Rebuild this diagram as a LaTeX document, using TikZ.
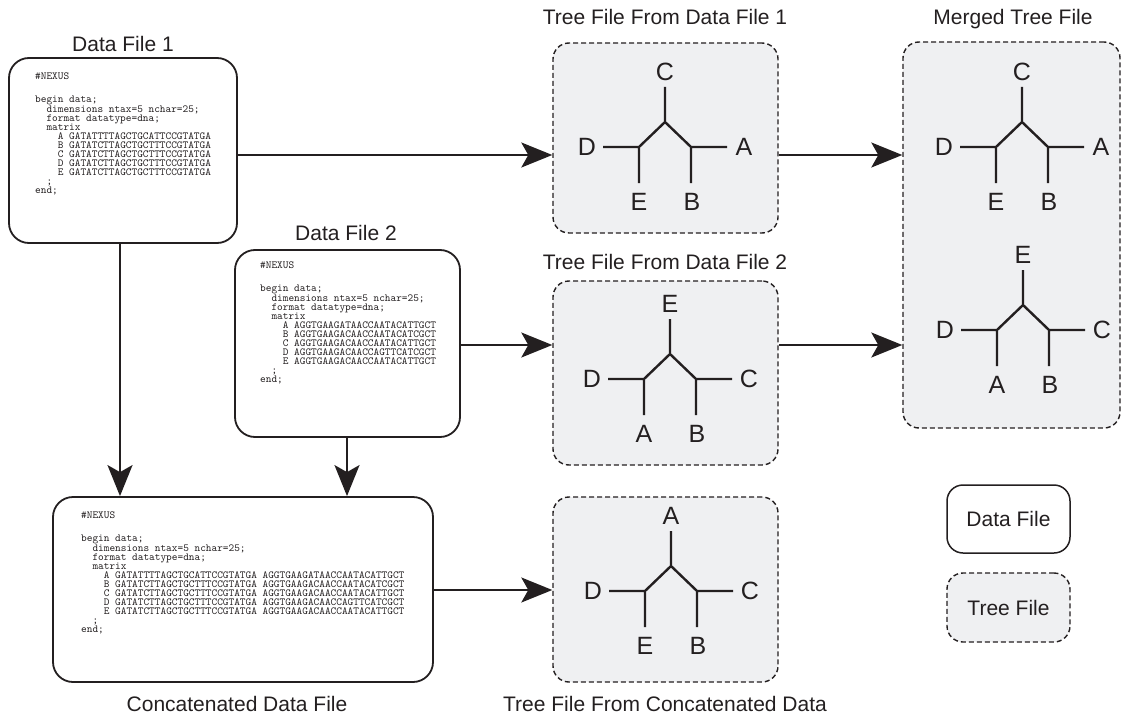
\documentclass[tikz,border=0pt]{standalone}
\usepackage{fontspec}
\setmainfont{Liberation Sans}
\usetikzlibrary{arrows.meta}
\definecolor{ink}{RGB}{35,31,32}
\definecolor{treefill}{RGB}{239,240,242}
\tikzset{
  databox/.style={draw=ink, line width=1.8pt, rounded corners=20pt, inner sep=0pt},
  treebox/.style={draw=ink, fill=treefill, line width=1.4pt, dash pattern=on 5pt off 3pt, rounded corners=16pt, inner sep=0pt},
  arr/.style={draw=ink, line width=2pt, -{Stealth[length=31pt,width=25pt,inset=7pt]}},
  title/.style={font=\fontsize{21}{21}\selectfont, text=ink, anchor=base, inner sep=0pt},
  code/.style={font=\ttfamily\fontsize{10.8}{9}\selectfont, align=left, anchor=north west, inner sep=0pt, text=ink},
  tlabel/.style={font=\fontsize{25}{25}\selectfont, text=ink, inner sep=0pt},
  treeline/.style={draw=ink, line width=2.4pt, line join=miter},
  legendtext/.style={font=\fontsize{21}{21}\selectfont, text=ink},
}
% #1 prefix, #2 root, #3 top, #4 left, #5 right, #6 bottom left, #7 bottom right
\newcommand{\phylotree}[7]{%
  \begin{scope}[shift={#2}]
    \draw[treeline] (0,-35) -- (0,0) -- (-26,25) -- (-62,25)
                    (-26,25) -- (-26,61)
                    (0,0) -- (26,25) -- (62,25)
                    (26,25) -- (26,61);
    \node[tlabel] (#1top) at (0,-50) {#3};
    \node[tlabel] (#1left) at (-78,25) {#4};
    \node[tlabel] (#1right) at (79,25) {#5};
    \node[tlabel] (#1bl) at (-26,80) {#6};
    \node[tlabel] (#1br) at (27,80) {#7};
  \end{scope}}
\begin{document}
\begin{tikzpicture}[x=1pt,y=-1pt]
\useasboundingbox (0,0) rectangle (1122,717);

% data boxes
\node[databox, minimum width=228, minimum height=185] (df1) at (123,150.5) {};
\node[databox, minimum width=225, minimum height=187] (df2) at (347.5,343.5) {};
\node[databox, minimum width=380, minimum height=185] (cat) at (243,589.5) {};

% tree boxes
\node[treebox, minimum width=225, minimum height=190] (t1) at (665.5,138) {};
\node[treebox, minimum width=225, minimum height=184] (t2) at (665.5,373) {};
\node[treebox, minimum width=225, minimum height=185] (t3) at (665.5,589.5) {};
\node[treebox, minimum width=217, minimum height=386] (mg) at (1011.5,235) {};

% legend
\node[databox, line width=1.5pt, rounded corners=16pt, minimum width=123, minimum height=68, legendtext] (ldata) at (1008.5,519) {Data File};
\node[treebox, minimum width=123, minimum height=69, legendtext] (ltree) at (1008.5,607.5) {Tree File};

% titles
\node[title] (tdf1) at (123,52) {Data File 1};
\node[title] (tdf2) at (346,240) {Data File 2};
\node[title] (tcat) at (237,711) {Concatenated Data File};
\node[title] (tt1) at (665,25) {Tree File From Data File 1};
\node[title] (tt2) at (665,269) {Tree File From Data File 2};
\node[title] (tt3) at (665,711) {Tree File From Concatenated Data};
\node[title] (tmg) at (1013,25) {Merged Tree File};

% code texts
\node[code] (c1) at (35,73) {\#NEXUS\\[13.5pt]
begin data;\\
~~dimensions ntax=5 nchar=25;\\
~~format datatype=dna;\\
~~matrix\\
~~~~A GATATTTTAGCTGCATTCCGTATGA\\
~~~~B GATATCTTAGCTGCTTTCCGTATGA\\
~~~~C GATATCTTAGCTGCTTTCCGTATGA\\
~~~~D GATATCTTAGCTGCTTTCCGTATGA\\
~~~~E GATATCTTAGCTGCTTTCCGTATGA\\
~~;\\
end;};

\node[code] (c2) at (260,262) {\#NEXUS\\[13.5pt]
begin data;\\
~~dimensions ntax=5 nchar=25;\\
~~format datatype=dna;\\
~~matrix\\
~~~~A AGGTGAAGATAACCAATACATTGCT\\
~~~~B AGGTGAAGACAACCAATACATCGCT\\
~~~~C AGGTGAAGACAACCAATACATTGCT\\
~~~~D AGGTGAAGACAACCAGTTCATCGCT\\
~~~~E AGGTGAAGACAACCAATACATTGCT\\
~~;\\
end;};

\node[code] (c3) at (81,512) {\#NEXUS\\[13.5pt]
begin data;\\
~~dimensions ntax=5 nchar=25;\\
~~format datatype=dna;\\
~~matrix\\
~~~~A GATATTTTAGCTGCATTCCGTATGA AGGTGAAGATAACCAATACATTGCT\\
~~~~B GATATCTTAGCTGCTTTCCGTATGA AGGTGAAGACAACCAATACATCGCT\\
~~~~C GATATCTTAGCTGCTTTCCGTATGA AGGTGAAGACAACCAATACATTGCT\\
~~~~D GATATCTTAGCTGCTTTCCGTATGA AGGTGAAGACAACCAGTTCATCGCT\\
~~~~E GATATCTTAGCTGCTTTCCGTATGA AGGTGAAGACAACCAATACATTGCT\\
~~;\\
end;};

% trees
\phylotree{a}{(665,122)}{C}{D}{A}{E}{B}
\phylotree{b}{(670,354)}{E}{D}{C}{A}{B}
\phylotree{c}{(671,566)}{A}{D}{C}{E}{B}
\phylotree{m}{(1022,122)}{C}{D}{A}{E}{B}
\phylotree{n}{(1023,305)}{E}{D}{C}{A}{B}

% arrows
\draw[arr] (df1.east |- 0,155) -- (t1.west |- 0,155);
\draw[arr] (t1.east |- 0,155) -- (mg.west |- 0,155);
\draw[arr] (df2.east |- 0,345) -- (t2.west |- 0,345);
\draw[arr] (t2.east |- 0,345) -- (mg.west |- 0,345);
\draw[arr] (df1.south -| 120,0) -- (cat.north -| 120,0);
\draw[arr] (df2.south -| 347,0) -- (cat.north -| 347,0);
\draw[arr] (cat.east |- 0,590) -- (t3.west |- 0,590);
\end{tikzpicture}
\end{document}
